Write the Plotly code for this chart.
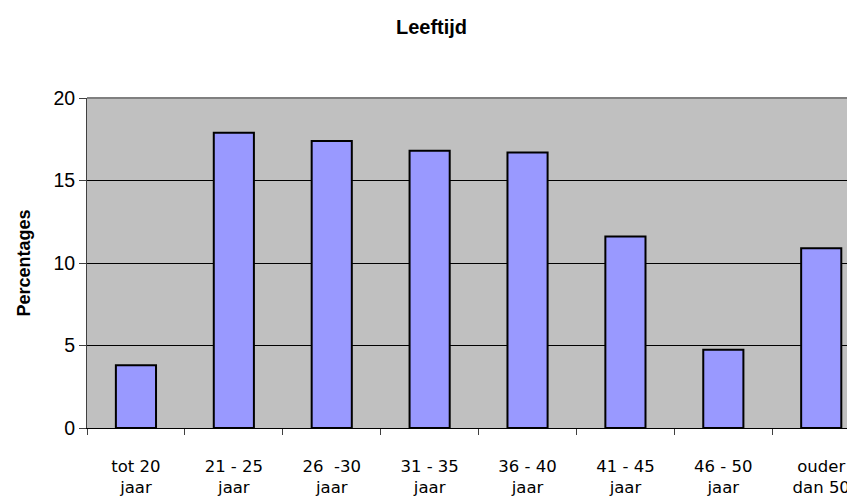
import plotly.graph_objects as go

categories = ["tot 20<br>jaar", "21 - 25<br>jaar", "26  -30<br>jaar", "31 - 35<br>jaar",
              "36 - 40<br>jaar", "41 - 45<br>jaar", "46 - 50<br>jaar", "ouder<br>dan 50"]
percentages = [3.8, 17.9, 17.4, 16.8, 16.7, 11.6, 4.75, 10.9]

# the page body adds an 8px margin, so the figure is sized to fit the window
fig = go.Figure(data=[go.Bar(x=categories, y=percentages,
                             marker=dict(color="#9999FF", line=dict(color="black", width=2)))])

fig.update_layout(
    width=847, height=492, autosize=False,
    margin=dict(l=79, r=0, t=90, b=72),
    plot_bgcolor="#C0C0C0", paper_bgcolor="white",
    font=dict(family="Liberation Sans, Arial", size=16, color="black"),
    bargap=0.59, showlegend=False,
    title=dict(text="<b>Leeftijd</b>", x=0.5, xanchor="center", y=0.961, yanchor="middle",
               font=dict(size=20)),
    shapes=[dict(type="line", xref="paper", yref="paper", x0=0, x1=1, y0=1, y1=1,
                 line=dict(color="#808080", width=2))],
)
fig.update_xaxes(type="category", range=[-0.5, 7.345], showline=True, linecolor="black", linewidth=1,
                 ticks="outside", tickson="boundaries", ticklen=6, tickcolor="#404040",
                 showgrid=False, ticklabelstandoff=23,
                 tickfont=dict(family="DejaVu Sans", size=16.5))
fig.update_yaxes(range=[0, 20], dtick=5, showline=True, linecolor="#404040", linewidth=1,
                 ticks="outside", ticklen=7, tickcolor="#404040",
                 gridcolor="black", gridwidth=1, zeroline=False,
                 title=dict(text="<b>Percentages</b>", font=dict(size=18), standoff=18),
                 tickfont=dict(size=19.5))

fig.write_html("out.html")
